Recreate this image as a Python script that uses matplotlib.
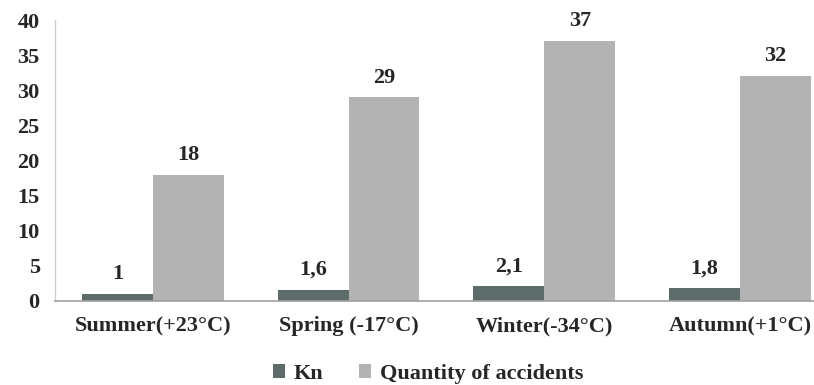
import matplotlib
matplotlib.use("Agg")
import matplotlib.pyplot as plt
import numpy as np

categories = ["Summer(+23°C)", "Spring (-17°C)", "Winter(-34°C)", "Autumn(+1°C)"]
kn = [1.0, 1.6, 2.1, 1.8]
kn_labels = ["1", "1,6", "2,1", "1,8"]
accidents = [18, 29, 37, 32]
acc_labels = ["18", "29", "37", "32"]
series_names = ["Kn", "Quantity of accidents"]
yticks = [0, 5, 10, 15, 20, 25, 30, 35, 40]

plt.rcParams['font.family'] = ['Liberation Serif', 'DejaVu Serif']
plt.rcParams['font.weight'] = 'bold'

fig = plt.figure(figsize=(8.14, 3.85), dpi=100)
ax = fig.add_axes([55/814, 1-301/385, 1-55/814, (301-20)/385])

x = np.arange(len(categories))
w = 0.362
c_kn = "#5e6b6b"
c_acc = "#b3b3b3"
txt = "#262626"
fs = 16
b1 = ax.bar(x - w/2, kn, w, color=c_kn, label=series_names[0])
b2 = ax.bar(x + w/2, accidents, w, color=c_acc, label=series_names[1])

for xi, v, l in zip(x - w/2, kn, kn_labels):
    ax.annotate(l, (xi, v), xytext=(0, 7), textcoords="offset points",
                ha="center", va="bottom", fontsize=fs, fontweight="bold", color=txt)
for xi, v, l in zip(x + w/2, accidents, acc_labels):
    ax.annotate(l, (xi, v), xytext=(0, 7), textcoords="offset points",
                ha="center", va="bottom", fontsize=fs, fontweight="bold", color=txt)

ax.set_xlim(-0.5, 3.378)
ax.set_ylim(0, 40)
ax.set_yticks(yticks)
ax.set_yticklabels([str(t) for t in yticks], fontsize=fs, fontweight="bold", color=txt)
ax.set_xticks(x)
ax.set_xticklabels(categories, fontsize=fs, fontweight="bold", color=txt)
ax.tick_params(axis="both", length=0)
ax.tick_params(axis="y", pad=11)
ax.tick_params(axis="x", pad=11)
for s in ["top", "right"]:
    ax.spines[s].set_visible(False)
ax.spines["left"].set_color("#d0d0d0")
ax.spines["bottom"].set_color("#a0a0a0")
ax.spines["left"].set_linewidth(1.0)
ax.spines["bottom"].set_linewidth(1.2)

leg = fig.legend(handles=[b1, b2], loc="center", bbox_to_anchor=(428/814, 1-374/385),
                 ncol=2, frameon=False, fontsize=fs, handlelength=0.55, handleheight=0.55,
                 handletextpad=0.4, columnspacing=1.6)
for t in leg.get_texts():
    t.set_color(txt)
    t.set_fontweight("bold")

fig.savefig("out.png", dpi=100)
